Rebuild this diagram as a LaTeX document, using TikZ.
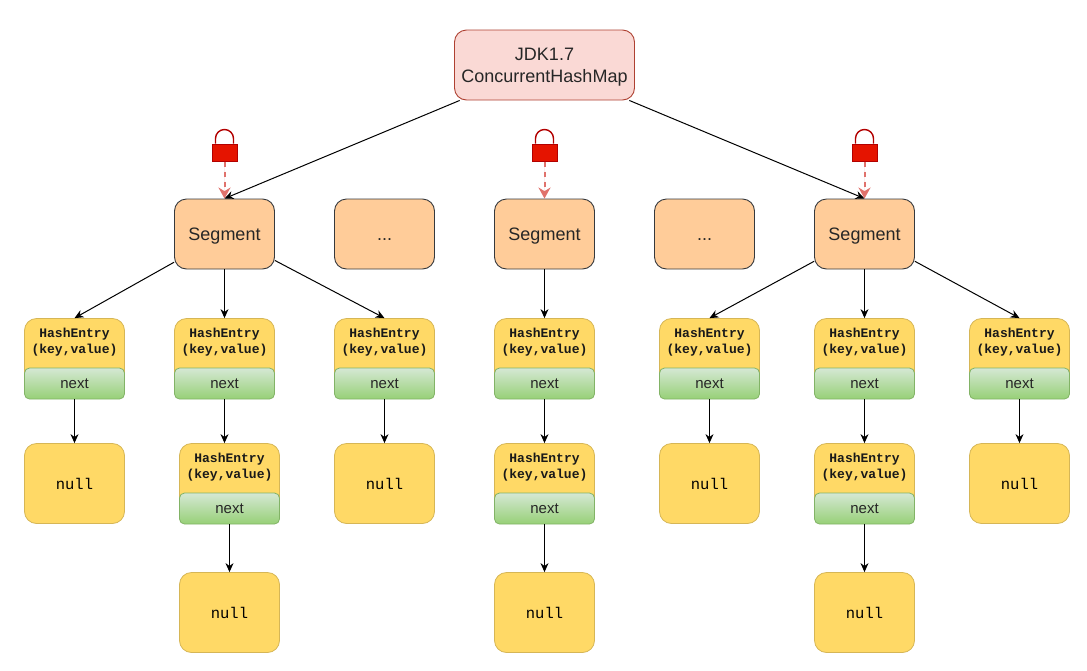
\documentclass[tikz,border=0pt]{standalone}
\usepackage{fontspec}
\usetikzlibrary{arrows.meta}
\setmainfont{Liberation Sans}
\setmonofont{Liberation Mono}

\definecolor{rootfill}{HTML}{FAD9D5}
\definecolor{rootline}{HTML}{AE4132}
\definecolor{segfill}{HTML}{FFCC99}
\definecolor{segline}{HTML}{36393D}
\definecolor{entryfill}{HTML}{FFD966}
\definecolor{entryline}{HTML}{D6B656}
\definecolor{nexttop}{HTML}{D5E8D4}
\definecolor{nextbot}{HTML}{97D077}
\definecolor{nextline}{HTML}{82B366}
\definecolor{lockfill}{HTML}{E51400}
\definecolor{lockline}{HTML}{B20000}
\definecolor{lockarrow}{HTML}{E0726C}

\tikzset{
	rootbox/.style = {draw = rootline, fill = rootfill, line width = 0.9 pt, rounded corners = 12 pt, minimum width = 180 pt, minimum height = 70 pt, align = center, text depth = 0 pt, font = \fontsize{18}{22}\selectfont, text = black!85},
	segbox/.style = {draw = segline, fill = segfill, line width = 0.9 pt, rounded corners = 12 pt, minimum width = 100 pt, minimum height = 70 pt, text height = 13 pt, text depth = 0 pt, font = \fontsize{18}{22}\selectfont, text = black!85},
	entrybox/.style = {draw = entryline, fill = entryfill, line width = 0.8 pt, rounded corners = 12 pt, minimum width = 100 pt, minimum height = 80 pt},
	nextbox/.style = {draw = nextline, top color = nexttop, bottom color = nextbot, line width = 0.8 pt, rounded corners = 5 pt, minimum width = 100 pt, minimum height = 31 pt, font = \fontsize{15}{18}\selectfont, text = black!85},
	keytext/.style = {align = center, font = \fontsize{13}{16}\ttfamily\bfseries, text = black!90},
	nullbox/.style = {entrybox, font = \fontsize{15.5}{18}\ttfamily, text = black},
	lockbody/.style = {draw = lockline, fill = lockfill, line width = 1 pt, minimum width = 25 pt, minimum height = 17 pt, inner sep = 0 pt},
	link/.style = {->, line width = 1 pt},
	locklink/.style = {-{Stealth[length=11pt, width=12pt]}, dash pattern = on 5 pt off 5 pt, line width = 2 pt, draw = lockarrow, fill = lockarrow}
}

% One hash entry: yellow box with the green next field at its foot
\newcommand{\hashentry}[3]{
	\node [entrybox] (#1) at (#2, #3) {};
	\node [keytext] (#1key) at (#2, #3 - 16) {HashEntry\\(key,value)};
	\node [nextbox] (#1next) at (#2, #3 + 25) {next};
}

\begin{document}
\begin{tikzpicture}[> = {Stealth[length=9pt, width=8pt]}, x = 1 pt, y = -1 pt]

	\useasboundingbox (0, 0) rectangle (1087, 670);

	% Map

	\node [rootbox] (root) at (544.5, 65) {JDK1.7\\ConcurrentHashMap};

	% Segments

	\node [segbox] (seg1) at (224.5, 234) {Segment};
	\node [segbox] (dots1) at (384.5, 234) {...};
	\node [segbox] (seg2) at (544.5, 234) {Segment};
	\node [segbox] (dots2) at (704.5, 234) {...};
	\node [segbox] (seg3) at (864.5, 234) {Segment};

	\draw [link] (root) -- (seg1.north);
	\draw [link] (root) -- (seg3.north);

	% Locks + dashed arrows

	\foreach \n/\X in {1/224.5, 2/544.5, 3/864.5}
	{
		\node [lockbody] (lock\n) at (\X, 152.5) {};
		\draw [lockline, line width = 1.4 pt] (lock\n.north) ++ (-9, 0) -- ++ (0, -5) arc [start angle = 180, end angle = 360, radius = 9] -- ++ (0, 5);
		\draw [locklink] (lock\n.south) -- (seg\n.north);
	}

	% First row of entries

	\hashentry{a}{74.5}{358.5}
	\hashentry{b}{224.5}{358.5}
	\hashentry{c}{384.5}{358.5}
	\hashentry{d}{544.5}{358.5}
	\hashentry{e}{709.5}{358.5}
	\hashentry{f}{864.5}{358.5}
	\hashentry{g}{1019.5}{358.5}

	% Second row of entries

	\hashentry{h}{229.5}{483.5}
	\hashentry{i}{544.5}{483.5}
	\hashentry{j}{864.5}{483.5}

	% Null ends

	\node [nullbox] (nulla) at (74.5, 483.5) {null};
	\node [nullbox] (nullc) at (384.5, 483.5) {null};
	\node [nullbox] (nulle) at (709.5, 483.5) {null};
	\node [nullbox] (nullg) at (1019.5, 483.5) {null};
	\node [nullbox] (nullh) at (229.5, 612.5) {null};
	\node [nullbox] (nulli) at (544.5, 612.5) {null};
	\node [nullbox] (nullj) at (864.5, 612.5) {null};

	% Segment to entry

	\foreach \A/\B in {seg1/a, seg1/b, seg1/c, seg2/d, seg3/e, seg3/f, seg3/g}
	{
		\draw [link] (\A) -- (\B.north);
	}

	% Next links

	\foreach \A/\B in {anext/nulla, cnext/nullc, dnext/i, enext/nulle, fnext/j, gnext/nullg, hnext/nullh, inext/nulli, jnext/nullj}
	{
		\draw [link] (\A.south) -- (\B.north);
	}
	\draw [link] (bnext.south) -- (bnext.south |- h.north);

\end{tikzpicture}
\end{document}
